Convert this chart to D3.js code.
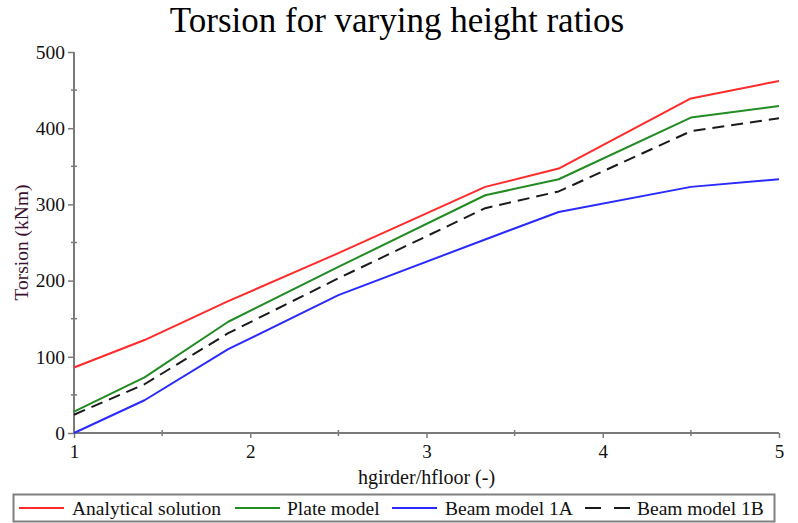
<!DOCTYPE html>
<html>
<head>
<meta charset="utf-8">
<script src="https://cdn.jsdelivr.net/npm/d3@7/dist/d3.min.js"></script>
<style>
  html, body { margin: 0; padding: 0; background: #fff; }
  svg { display: block; }
  text { font-family: "Liberation Serif", "Times New Roman", serif; }
</style>
</head>
<body>
<svg id="chart" width="798" height="523"></svg>
<script>
// Height ratio hgirder/hfloor
const ratios = [1, 1.4, 1.875, 2.5, 3.333, 3.75, 4.5, 5];

// Torsion (kNm) per model
const analytical = [86, 122, 173, 236, 323, 347, 439, 462];
const plateModel = [28, 73, 146, 218, 312, 333, 414, 429];
const beam1A     = [0, 43, 110, 181, 254, 290, 323, 333];
const beam1B     = [24, 64, 131, 203, 295, 317, 396, 413];

const seriesNames = ["Analytical solution", "Plate model", "Beam model 1A", "Beam model 1B"];
const seriesColors = ["#ff2a2a", "#228b22", "#2a2aff", "#1a1a1a"];
const seriesDash = [null, null, null, "12,7"];

const xTicks = [1, 2, 3, 4, 5];
const yTicks = [0, 100, 200, 300, 400, 500];

const svg = d3.select("#chart");
const plotLeft = 74, plotRight = 779, plotTop = 52, plotBottom = 433;

const x = d3.scaleLinear().domain([1, 5]).range([plotLeft, plotRight]);
const y = d3.scaleLinear().domain([0, 500]).range([plotBottom, plotTop]);

const axisColor = "#7a7a7a";

// Title
svg.append("text")
  .attr("x", 397).attr("y", 32)
  .attr("text-anchor", "middle")
  .attr("font-size", 35)
  .attr("fill", "#000")
  .text("Torsion for varying height ratios");

// X axis
const gx = svg.append("g").attr("transform", `translate(0,${plotBottom})`);
gx.call(d3.axisBottom(x).tickValues(xTicks).tickFormat(d3.format("d")).tickSize(5).tickPadding(7));
gx.selectAll(".tick line").attr("stroke", axisColor).attr("stroke-width", 1.5);
gx.select(".domain").remove();
gx.selectAll(".tick text")
  .attr("font-size", 19).attr("fill", "#111");
gx.selectAll(".minor").data(d3.range(1.5, 5, 1)).enter().append("line")
  .attr("x1", d => x(d)).attr("x2", d => x(d))
  .attr("y1", -3).attr("y2", 3)
  .attr("stroke", axisColor).attr("stroke-width", 1.5);

// Y axis
const gy = svg.append("g").attr("transform", `translate(${plotLeft},0)`);
gy.call(d3.axisLeft(y).tickValues(yTicks).tickFormat(d3.format("d")).tickSize(6).tickPadding(3));
gy.selectAll(".tick line").attr("stroke", axisColor).attr("stroke-width", 1.5);
gy.select(".domain").remove();
gy.selectAll(".tick text")
  .attr("font-size", 19.5).attr("fill", "#111");
gy.selectAll(".minor").data(d3.range(50, 500, 100)).enter().append("line")
  .attr("y1", d => y(d)).attr("y2", d => y(d))
  .attr("x1", -3).attr("x2", 3)
  .attr("stroke", axisColor).attr("stroke-width", 1.5);

// Axis lines
svg.append("line")
  .attr("x1", plotLeft).attr("x2", plotRight).attr("y1", plotBottom).attr("y2", plotBottom)
  .attr("stroke", axisColor).attr("stroke-width", 2);
svg.append("line")
  .attr("x1", plotLeft).attr("x2", plotLeft).attr("y1", plotBottom).attr("y2", plotTop)
  .attr("stroke", axisColor).attr("stroke-width", 2);

// Axis titles
svg.append("text")
  .attr("x", (plotLeft + plotRight) / 2).attr("y", 484)
  .attr("text-anchor", "middle")
  .attr("font-size", 20).attr("fill", "#111")
  .text("hgirder/hfloor (-)");
svg.append("text")
  .attr("transform", `translate(28,${(plotTop + plotBottom) / 2}) rotate(-90)`)
  .attr("text-anchor", "middle")
  .attr("font-size", 19.5).attr("fill", "#3b1030")
  .text("Torsion (kNm)");

// Series lines
const allSeries = [analytical, plateModel, beam1A, beam1B];
const line = d3.line().x((d, i) => x(ratios[i])).y(d => y(d));
allSeries.forEach((vals, k) => {
  svg.append("path")
    .datum(vals)
    .attr("d", line)
    .attr("fill", "none")
    .attr("stroke", seriesColors[k])
    .attr("stroke-width", 2)
    .attr("stroke-dasharray", seriesDash[k])
    .attr("stroke-linejoin", "round");
});

// Legend
svg.append("rect")
  .attr("x", 13.5).attr("y", 494.5).attr("width", 761).attr("height", 27)
  .attr("fill", "#fff").attr("stroke", "#808080").attr("stroke-width", 2);

const legendItems = [
  { lx: 19, tx: 72 },
  { lx: 235, tx: 287 },
  { lx: 392, tx: 445 },
  { lx: 585, tx: 637 }
];
legendItems.forEach((it, k) => {
  svg.append("line")
    .attr("x1", it.lx).attr("x2", it.lx + 45)
    .attr("y1", 508).attr("y2", 508)
    .attr("stroke", seriesColors[k]).attr("stroke-width", 2)
    .attr("stroke-dasharray", k === 3 ? "16,13" : null);
  svg.append("text")
    .attr("x", it.tx).attr("y", 515)
    .attr("font-size", 19.5).attr("fill", "#111")
    .text(seriesNames[k]);
});
</script>
</body>
</html>
